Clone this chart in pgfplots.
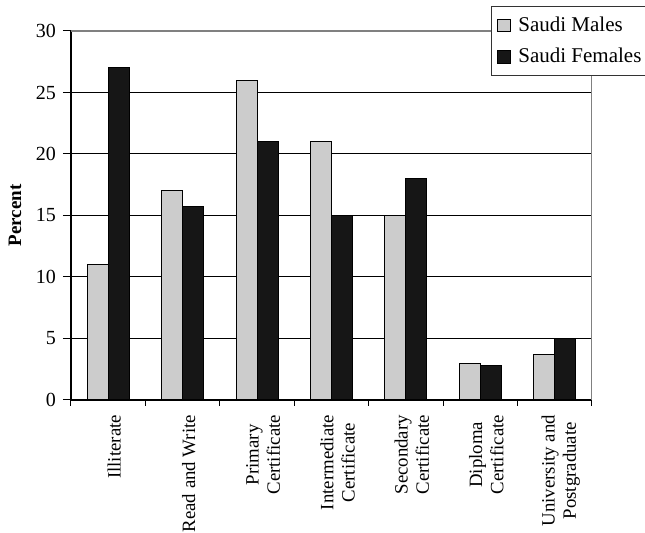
\documentclass[border=0pt]{standalone}
\usepackage{pgfplots}
\pgfplotsset{compat=1.18}
\usepackage{fontspec}
\setmainfont{Liberation Serif}
\definecolor{mgray}{RGB}{204,204,204}
\definecolor{fblack}{RGB}{22,22,22}
\begin{document}
\begin{tikzpicture}
\begin{axis}[
  at={(0,0)}, anchor=south west,
  scale only axis,
  width=260.5pt, height=184.5pt,
  ybar=0pt, bar width=10.5pt,
  xmin=-0.5, xmax=6.5, ymin=0, ymax=30,
  axis x line*=bottom, axis y line*=left,
  axis line style={black, line width=0.6pt},
  xtick={0,...,6},
  xticklabels={Illiterate, Read and Write, Primary\\Certificate, Intermediate\\Certificate, Secondary\\Certificate, Diploma\\Certificate, University and\\Postgraduate},
  xticklabel style={rotate=90, anchor=east, align=center, font=\fontsize{9.4}{10.6}\selectfont, yshift=-3pt},
  major x tick style={draw=none},
  minor xtick={-0.5,0.5,...,6.5},
  minor tick length=3pt,
  ytick={0,5,...,30},
  major tick length=4pt,
  tick align=outside,
  tick style={black, line width=0.5pt},
  yticklabel style={font=\fontsize{10}{11}\selectfont},
  /pgf/number format/assume math mode=true,
  ymajorgrids, major grid style={black, line width=0.5pt},
  ylabel={\textbf{Percent}},
  ylabel style={font=\fontsize{9.5}{11}\selectfont, at={(axis description cs:-0.1075,0.5)}, anchor=center, rotate=0},
  legend style={at={(0.806,1.067)}, anchor=north west, draw=black!80, line width=0.5pt, font=\fontsize{10.5}{11}\selectfont, row sep=3pt, inner xsep=3pt, inner ysep=3pt, cells={anchor=west}},
  legend image code/.code={\draw[#1, draw=black, line width=0.5pt] (0.5pt,-3.2pt) rectangle (7pt,3.2pt); \path (8.5pt,0);},
]
\addplot[fill=mgray, draw=black, line width=0.5pt] coordinates {(0,11) (1,17) (2,26) (3,21) (4,15) (5,3) (6,3.7)};
\addplot[fill=fblack, draw=black, line width=0.5pt] coordinates {(0,27) (1,15.7) (2,21) (3,15) (4,18) (5,2.8) (6,5)};
\legend{Saudi Males, Saudi Females}
\draw[gray, line width=0.6pt] (rel axis cs:0,1) -- (rel axis cs:1,1) -- (rel axis cs:1,0);
\end{axis}
\pgfresetboundingbox
\path (-35.5pt,-66.5pt) rectangle (287pt,200pt);
\end{tikzpicture}
\end{document}
